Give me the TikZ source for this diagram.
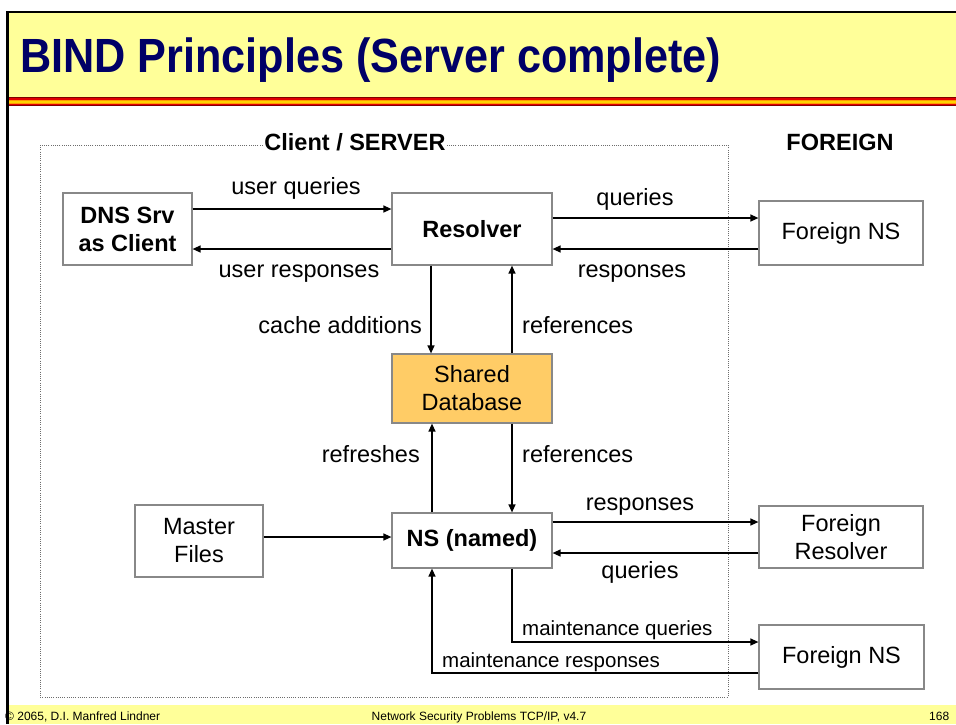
\documentclass[tikz,border=0pt]{standalone}
\usepackage{fontspec}
\setmainfont{Liberation Sans}
\newfontfamily\slidetitlefont[FakeStretch=0.9]{Liberation Sans}
\usetikzlibrary{arrows.meta}
\definecolor{slideyellow}{RGB}{255,255,153}
\definecolor{titleblue}{RGB}{0,0,102}
\definecolor{dbfill}{RGB}{255,204,102}
\definecolor{boxgray}{RGB}{136,136,136}
\definecolor{darkred}{RGB}{128,0,0}
\definecolor{stripred}{RGB}{224,0,0}
\definecolor{striporange}{RGB}{255,153,0}
\definecolor{stripyellow}{RGB}{255,210,0}
\begin{document}
\begin{tikzpicture}[x=1pt,y=-1pt,
  box/.style={draw=boxgray,line width=1.2pt,fill=white,align=center,inner sep=0pt,font=\fontsize{23.5}{28}\selectfont},
  bbox/.style={box,font=\bfseries\fontsize{23.5}{28}\selectfont},
  lbl/.style={font=\fontsize{23.5}{28}\selectfont,inner sep=0pt},
  blbl/.style={font=\bfseries\fontsize{23.5}{28}\selectfont,inner sep=1pt,fill=white},
  small/.style={font=\fontsize{20.5}{24}\selectfont,inner sep=0pt},
  foot/.style={font=\fontsize{12}{14}\selectfont,inner sep=0pt},
  arr/.style={line width=1.3pt,-{Triangle[length=8pt,width=7pt]}},
  con/.style={line width=1.3pt}
]
\useasboundingbox (0,0) rectangle (956,724);
\fill[white] (0,0) rectangle (956,724);
% slide frame
\fill[slideyellow] (9,12.5) rectangle (956,97);
\fill[darkred] (9,97) rectangle (956,106);
\fill[stripred] (9,98) rectangle (956,105);
\fill[striporange] (9,99.5) rectangle (956,103.5);
\fill[stripyellow] (9,100.5) rectangle (956,102.5);
\fill[slideyellow] (9,705) rectangle (956,724);
\fill[black] (6,10.5) rectangle (9,724);
\fill[black] (6,10.5) rectangle (956,12.5);
\node[anchor=base west,inner sep=0pt,text=titleblue,font=\slidetitlefont\bfseries\fontsize{48}{54}\selectfont] (title) at (20,72) {BIND Principles (Server complete)};
\node[foot,anchor=base west] (f1) at (5,720) {\textcopyright{} 2065, D.I. Manfred Lindner};
\node[foot,anchor=base] (f2) at (479,720) {Network Security Problems TCP/IP, v4.7};
\node[foot,anchor=base west] (f3) at (929,720) {168};
% dotted area
\draw[boxgray!80!black,line width=1pt,dash pattern=on 1pt off 1.2pt] (40,145) rectangle (728,697);
\node[blbl,anchor=base] (cs) at (355,150) {Client / SERVER};
\node[blbl,anchor=base] (foreign) at (840,150) {FOREIGN};
% nodes
\node[bbox,minimum width=129pt,minimum height=72pt] (dns) at (127.5,229) {DNS Srv\\as Client};
\node[bbox,minimum width=160pt,minimum height=72pt] (res) at (472,229) {Resolver};
\node[box,minimum width=164pt,minimum height=64pt] (fns1) at (841,233) {Foreign NS};
\node[box,fill=dbfill,minimum width=160pt,minimum height=69pt] (db) at (472,388.5) {Shared\\Database};
\node[bbox,minimum width=160pt,minimum height=55pt] (ns) at (472,540.5) {NS (named)};
\node[box,minimum width=128pt,minimum height=72pt] (mf) at (199,541) {Master\\Files};
\node[box,minimum width=164pt,minimum height=62pt] (fres) at (841,537) {Foreign\\Resolver};
\node[box,minimum width=165pt,minimum height=64pt] (fns2) at (841.5,657) {Foreign NS};
% connectors
\draw[arr] ([yshift=20pt]dns.east) -- ([yshift=20pt]res.west);
\draw[arr] ([yshift=-20pt]res.west) -- ([yshift=-20pt]dns.east);
\draw[arr] ([yshift=11pt]res.east) -- ([yshift=11pt]res.east -| fns1.west);
\draw[arr] ([yshift=-20pt]res.east -| fns1.west) -- ([yshift=-20pt]res.east);
\draw[arr] ([xshift=-41pt]res.south) -- ([xshift=-41pt]db.north);
\draw[arr] ([xshift=40pt]db.north) -- ([xshift=40pt]res.south);
\draw[arr] ([xshift=-40pt]ns.north) -- ([xshift=-40pt]db.south);
\draw[arr] ([xshift=40pt]db.south) -- ([xshift=40pt]ns.north);
\draw[arr] ([yshift=4pt]mf.east) -- ([yshift=4pt]mf.east -| ns.west);
\draw[arr] ([yshift=18.5pt]ns.east) -- ([yshift=18.5pt]ns.east -| fres.west);
\draw[arr] ([yshift=-12.5pt]ns.east -| fres.west) -- ([yshift=-12.5pt]ns.east);
\draw[arr] ([xshift=40pt]ns.south) |- ([yshift=15pt]fns2.west);
\draw[arr] ([yshift=-16pt]fns2.west) -| ([xshift=-40pt]ns.south);
% labels
\node[lbl,anchor=base] (l1) at (296,194) {user queries};
\node[lbl,anchor=base] (l2) at (299,277) {user responses};
\node[lbl,anchor=base] (l3) at (635,205) {queries};
\node[lbl,anchor=base] (l4) at (632,277) {responses};
\node[lbl,anchor=base east] (l5) at (422,333) {cache additions};
\node[lbl,anchor=base west] (l6) at (522,333) {references};
\node[lbl,anchor=base east] (l7) at (420,462) {refreshes};
\node[lbl,anchor=base west] (l8) at (522,462) {references};
\node[lbl,anchor=base] (l9) at (640,510) {responses};
\node[lbl,anchor=base] (l10) at (640,578) {queries};
\node[small,anchor=base west] (l11) at (522,635) {maintenance queries};
\node[small,anchor=base west] (l12) at (442,667) {maintenance responses};
\end{tikzpicture}
\end{document}
